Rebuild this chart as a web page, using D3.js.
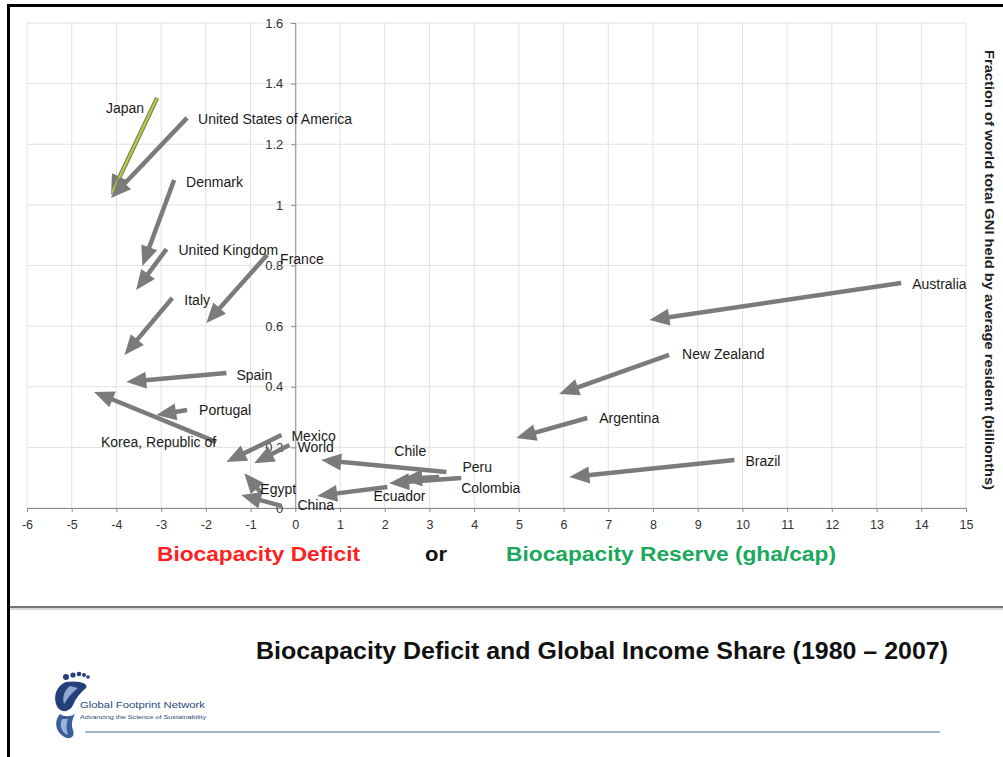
<!DOCTYPE html>
<html><head><meta charset="utf-8">
<script src="https://cdn.jsdelivr.net/npm/d3@7"></script>
<style>html,body{margin:0;padding:0;background:#fff;}svg{display:block;font-family:"Liberation Sans",Arial,sans-serif;}</style>
</head><body>
<script>
// ---- data ----
const countries = ["Japan","United States of America","Denmark","United Kingdom","France","Italy","Spain","Portugal","Korea, Republic of","Mexico","World","Egypt","China","Chile","Peru","Colombia","Ecuador","Australia","New Zealand","Argentina","Brazil"];
const x1980 = [-3.09,-2.42,-2.71,-2.88,-0.63,-2.75,-1.54,-2.42,-1.77,-0.31,-0.13,-0.76,-0.31,3.22,3.38,3.71,2.06,13.55,8.36,6.53,9.82];
const y1980 = [1.353,1.287,1.082,0.854,0.835,0.693,0.445,0.323,0.218,0.241,0.208,0.049,0.007,0.102,0.119,0.099,0.069,0.742,0.505,0.297,0.158];
const x2007 = [-4.12,-4.12,-3.42,-3.56,-1.99,-3.82,-3.78,-3.11,-4.50,-1.54,-0.92,-1.14,-1.21,2.39,0.58,2.10,0.49,7.92,5.90,4.94,6.13];
const y2007 = [1.033,1.023,0.798,0.719,0.61,0.505,0.416,0.307,0.383,0.152,0.148,0.115,0.043,0.096,0.158,0.082,0.040,0.62,0.376,0.231,0.102];
const xTicks = [-6,-5,-4,-3,-2,-1,0,1,2,3,4,5,6,7,8,9,10,11,12,13,14,15];
const yTicks = [0,0.2,0.4,0.6,0.8,1,1.2,1.4,1.6];
const yTickLabels = ["0","0.2","0.4","0.6","0.8","1","1.2","1.4","1.6"];
// label layout (pixel offsets from the 1980 end, anchor)
const labelLayout = [[-13,15,"end"],[11,6,"start"],[12,7,"start"],[12,6,"start"],[13,9,"start"],[12,7,"start"],[10,7,"start"],[12,5,"start"],[0,5,"end"],[10,6,"start"],[8,7,"start"],[-1,1,"start"],[16,4,"start"],[-45,-21,"start"],[16,0,"start"],[0,15,"start"],[-14,14,"start"],[11,6,"start"],[13,4,"start"],[12,5,"start"],[11,6,"start"]];

const W = 1003, H = 757;
const svg = d3.select("body").append("svg").attr("width", W).attr("height", H);

// frame
svg.append("rect").attr("x",0).attr("y",0).attr("width",W).attr("height",H).attr("fill","#fff");
svg.append("line").attr("x1",8.5).attr("x2",8.5).attr("y1",4).attr("y2",H).attr("stroke","#000").attr("stroke-width",3);
svg.append("line").attr("x1",7).attr("x2",W).attr("y1",5.5).attr("y2",5.5).attr("stroke","#000").attr("stroke-width",3);

const x = d3.scaleLinear().domain([-6,15]).range([27,966]);
const y = d3.scaleLinear().domain([0,1.6]).range([508,23]);

// grid
const g = svg.append("g");
g.selectAll(".vg").data(xTicks).join("line").attr("x1",d=>x(d)).attr("x2",d=>x(d)).attr("y1",y(1.6)).attr("y2",y(0)).attr("stroke","#e2e2e2").attr("stroke-width",1);
g.selectAll(".hg").data(yTicks).join("line").attr("x1",x(-6)).attr("x2",x(15)).attr("y1",d=>y(d)).attr("y2",d=>y(d)).attr("stroke","#e2e2e2").attr("stroke-width",1);

// x axis at y=0
const xAxis = d3.axisBottom(x).tickValues(xTicks).tickSize(4).tickFormat(d3.format("d"));
const xg = svg.append("g").attr("transform",`translate(0,${y(0)})`).call(xAxis);
xg.select(".domain").attr("stroke","#8a8a8a");
xg.selectAll(".tick line").attr("stroke","#8a8a8a");
xg.selectAll("text").attr("font-size",12.5).attr("fill","#333").attr("dy","1.1em").text(d=>d<0?"-"+Math.abs(d):d);

// y axis at x=0
const yAxis = d3.axisLeft(y).tickValues(yTicks).tickSize(4).tickFormat((d,i)=>yTickLabels[i]);
const yg = svg.append("g").attr("transform",`translate(${x(0)},0)`).call(yAxis);
yg.select(".domain").attr("stroke","#8a8a8a");
yg.selectAll(".tick line").attr("stroke","#8a8a8a");
yg.selectAll("text").attr("font-size",13).attr("fill","#333").attr("x",-12);

// arrows
const arrowColor = "#7b7b7b";
function headPts(x0,y0,x1,y1,len,wid){
  const dx=x1-x0, dy=y1-y0, L=Math.hypot(dx,dy), ux=dx/L, uy=dy/L;
  const bx=x1-ux*len, by=y1-uy*len;
  return [[x1,y1],[bx-uy*wid/2,by+ux*wid/2],[bx+uy*wid/2,by-ux*wid/2]];
}
const ag = svg.append("g");
countries.forEach((c,i)=>{
  const X0=x(x1980[i]),Y0=y(y1980[i]),X1=x(x2007[i]),Y1=y(y2007[i]);
  const len=20, wid=17;
  const L=Math.hypot(X1-X0,Y1-Y0);
  const ex = X1-(X1-X0)/L*(len-4), ey = Y1-(Y1-Y0)/L*(len-4);
  ag.append("line").attr("x1",X0).attr("y1",Y0).attr("x2",ex).attr("y2",ey).attr("stroke",arrowColor).attr("stroke-width",4.5);
  ag.append("polygon").attr("points",headPts(X0,Y0,X1,Y1,len,wid).map(p=>p.join(",")).join(" ")).attr("fill",arrowColor);
  if(c==="Japan"){
    ag.append("line").attr("x1",X0).attr("y1",Y0).attr("x2",X1+1).attr("y2",Y1-2).attr("stroke","#b9d526").attr("stroke-width",2.2);
  }
});

// labels
const lg = svg.append("g");
countries.forEach((c,i)=>{
  const l = labelLayout[i];
  lg.append("text").attr("x",x(x1980[i])+l[0]).attr("y",y(y1980[i])+l[1]).attr("text-anchor",l[2])
    .attr("font-size",14).attr("fill","#1a1a1a").text(c);
});

// right axis title
svg.append("text").attr("transform","translate(985,270) rotate(90)").attr("text-anchor","middle")
  .attr("font-size",12).attr("font-weight","bold").attr("fill","#222")
  .attr("textLength",440).attr("lengthAdjust","spacingAndGlyphs")
  .text("Fraction of world total GNI held by average resident (billionths)");

// bottom axis titles
svg.append("text").attr("x",157).attr("y",561).attr("font-size",21).attr("font-weight","bold").attr("fill","#ff1f1f")
  .attr("textLength",203).attr("lengthAdjust","spacingAndGlyphs").text("Biocapacity Deficit");
svg.append("text").attr("x",425).attr("y",561).attr("font-size",21).attr("font-weight","bold").attr("fill","#111")
  .attr("textLength",22).attr("lengthAdjust","spacingAndGlyphs").text("or");
svg.append("text").attr("x",506).attr("y",561).attr("font-size",21).attr("font-weight","bold").attr("fill","#1aa85c")
  .attr("textLength",330).attr("lengthAdjust","spacingAndGlyphs").text("Biocapacity Reserve (gha/cap)");

// slide separator
svg.append("line").attr("x1",10).attr("x2",W).attr("y1",608).attr("y2",608).attr("stroke","#d8d8d8").attr("stroke-width",4);
svg.append("line").attr("x1",10).attr("x2",W).attr("y1",607).attr("y2",607).attr("stroke","#555").attr("stroke-width",1.5);

// title
svg.append("text").attr("x",256).attr("y",659).attr("font-size",23).attr("font-weight","bold").attr("fill","#111")
  .attr("textLength",692).attr("lengthAdjust","spacingAndGlyphs")
  .text("Biocapacity Deficit and Global Income Share (1980 \u2013 2007)");

// logo
const logo = svg.append("g");
logo.append("path").attr("d","M66,682 C56,686 52,698 58,708 C62,713 70,712 73,705 C76,698 80,693 86,688 C89,684 80,680 66,682 Z").attr("fill","#243f7a");
logo.append("path").attr("d","M70,686 C64,690 62,698 64,704 C67,700 70,694 78,688 Z").attr("fill","#8fa9cf");
logo.append("path").attr("d","M60,714 C53,722 56,734 67,738 C72,739 75,735 73,730 C71,725 72,719 75,714 C70,717 64,717 60,714 Z").attr("fill","#3a5f9c");
logo.append("path").attr("d","M62,719 C59,726 62,733 68,735 C66,729 66,724 68,719 Z").attr("fill","#9cb4d6");
[[66,677,3],[73,675,2.6],[79,674,2.3],[84,675,2],[88,677,1.8]].forEach(p=>logo.append("circle").attr("cx",p[0]).attr("cy",p[1]).attr("r",p[2]).attr("fill","#243f7a"));
svg.append("text").attr("x",80).attr("y",708).attr("font-size",9.5).attr("fill","#2c4a7e").attr("textLength",125).attr("lengthAdjust","spacingAndGlyphs").text("Global Footprint Network");
svg.append("text").attr("x",80).attr("y",719).attr("font-size",6).attr("fill","#2c4a7e").attr("textLength",126).attr("lengthAdjust","spacingAndGlyphs").text("Advancing the Science of Sustainability");
svg.append("line").attr("x1",85).attr("x2",940).attr("y1",732).attr("y2",732).attr("stroke","#a6b4ca").attr("stroke-width",2);
</script>
</body></html>
